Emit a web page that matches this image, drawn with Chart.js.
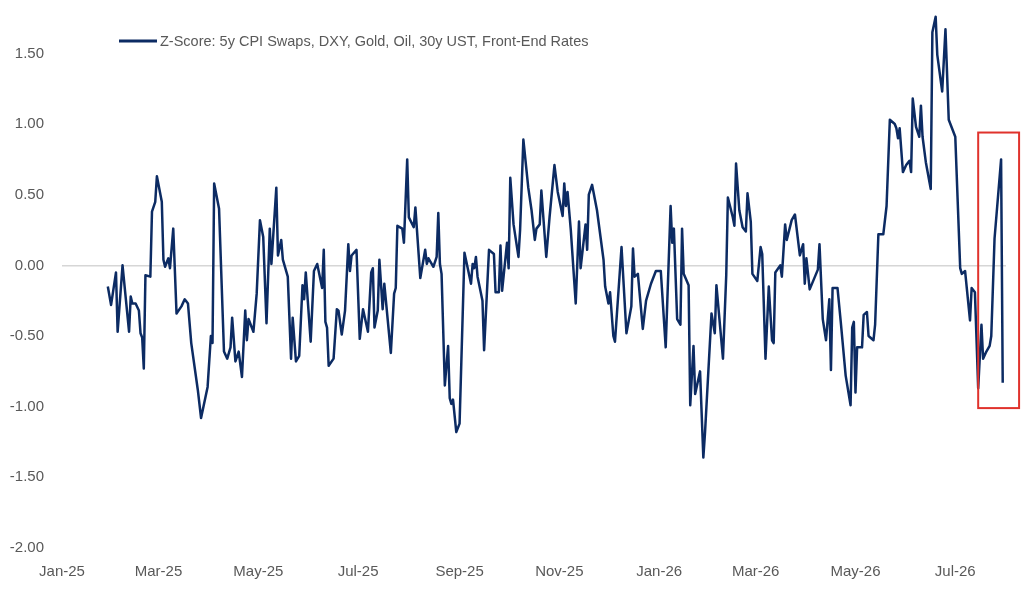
<!DOCTYPE html>
<html>
<head>
<meta charset="utf-8">
<script src="https://cdn.jsdelivr.net/npm/chart.js@4.4.1/dist/chart.umd.min.js"></script>
<style>
  html, body { margin: 0; padding: 0; background: #ffffff; }
  #wrap { width: 1024px; height: 593px; position: relative; }
</style>
</head>
<body>
<div id="wrap"><canvas id="zChart"></canvas></div>
<script>
// series label + data (x = days since 1 Jan 2025)
const seriesLabel = "Z-Score: 5y CPI Swaps, DXY, Gold, Oil, 30y UST, Front-End Rates";

const days = [
  28, 30, 33, 34, 37, 41, 42, 43, 45, 47, 48, 49, 50, 51, 54, 55, 57, 58, 61, 62,
  63, 65, 66, 68, 70, 73, 75, 77, 79, 83, 85, 89, 91, 92, 93, 96, 99, 101, 103, 104,
  106, 108, 110, 112, 113, 114, 117,
  119, 121, 123, 125, 127, 128, 131, 132, 134, 135, 138, 140, 141, 143, 145, 147, 148, 149, 152, 154,
  156, 159, 160, 161, 162, 163, 166, 168, 169, 171, 173, 175, 176, 177, 180, 182, 184, 187, 189, 190,
  191, 193, 194, 196, 197, 201, 203, 204, 205,
  208, 209, 211, 212, 215, 216, 219, 222, 223, 224, 227, 229, 230, 231, 232, 234, 236, 237, 238, 239,
  241, 243, 246, 250, 251, 252, 253, 254, 257, 258, 261, 264, 265, 267, 268, 269, 272, 273, 274, 276,
  279, 280, 282, 285, 287, 289, 290, 292, 293, 296,
  298, 301, 303, 306, 307, 308, 309, 311, 314, 316, 317, 320, 321, 322, 324, 327, 331, 332, 334, 335,
  337, 338, 342, 345, 348, 349, 350, 352, 355, 357, 360, 363, 366, 369, 372, 373, 374, 376, 378, 379,
  380, 383, 384, 386, 387, 390, 392, 393,
  397, 399, 400, 404, 406, 407, 410, 411, 412, 414, 416, 418, 419, 421, 422, 425, 427, 428, 430, 432,
  434, 435, 436, 439, 440, 442, 443, 446, 448, 451, 453, 454, 455, 457, 462, 463, 465, 467, 469, 470,
  471, 474, 476, 479,
  482, 483, 484, 485, 486, 489, 490, 492, 493, 496, 497, 499, 502, 504, 506, 509, 510, 511, 512, 514,
  516, 518, 519, 520, 522, 524, 525, 526, 528, 531, 532, 534, 535, 538, 540, 542, 546, 549, 550, 552,
  555, 556, 558, 560, 562, 563, 565, 567, 568, 570, 574, 575
];

const zscore = [
  -0.15, -0.28, -0.05, -0.47, 0.00, -0.47, -0.22, -0.27, -0.27, -0.32, -0.48, -0.51, -0.73, -0.07, -0.08, 0.38, 0.45, 0.63, 0.45, 0.04,
  -0.01, 0.05, -0.02, 0.26, -0.34, -0.29, -0.24, -0.27, -0.55, -0.88, -1.08, -0.86, -0.50, -0.55, 0.58, 0.40, -0.61, -0.66, -0.58, -0.37,
  -0.68, -0.61, -0.79, -0.32, -0.53, -0.38, -0.47,
  -0.20, 0.32, 0.20, -0.41, 0.26, 0.01, 0.55, 0.07, 0.18, 0.04, -0.08, -0.66, -0.37, -0.68, -0.64, -0.14, -0.24, -0.05, -0.54, -0.04,
  0.01, -0.16, 0.11, -0.40, -0.44, -0.71, -0.66, -0.31, -0.32, -0.49, -0.32, 0.15, -0.04, 0.07, 0.11, -0.52, -0.31, -0.47, -0.05, -0.02,
  -0.44, -0.32, 0.04, -0.31, -0.13, -0.62, -0.20, -0.16, 0.28,
  0.26, 0.16, 0.75, 0.34, 0.27, 0.41, -0.09, 0.11, 0.01, 0.05, -0.01, 0.06, 0.37, 0.01, -0.06, -0.85, -0.57, -0.94, -0.98, -0.95,
  -1.18, -1.12, 0.09, -0.13, 0.01, -0.02, 0.06, -0.08, -0.25, -0.60, 0.11, 0.08, -0.19, -0.19, 0.14, -0.18, 0.16, -0.02, 0.62, 0.29,
  0.06, 0.25, 0.89, 0.55, 0.39, 0.18, 0.26, 0.29, 0.53, 0.06,
  0.34, 0.71, 0.52, 0.35, 0.58, 0.42, 0.52, 0.25, -0.27, 0.31, -0.02, 0.29, 0.11, 0.50, 0.57, 0.39, 0.04, -0.15, -0.27, -0.19,
  -0.50, -0.54, 0.13, -0.48, -0.29, 0.12, -0.08, -0.06, -0.45, -0.25, -0.13, -0.04, -0.04, -0.58, 0.42, 0.16, 0.26, -0.38, -0.42, 0.26,
  -0.06, -0.14, -0.99, -0.57, -0.91, -0.75, -1.36, -1.19,
  -0.34, -0.48, -0.14, -0.66, -0.07, 0.48, 0.34, 0.28, 0.72, 0.39, 0.27, 0.24, 0.51, 0.31, -0.06, -0.11, 0.13, 0.08, -0.66, -0.15,
  -0.53, -0.55, -0.05, 0.00, -0.08, 0.29, 0.18, 0.32, 0.36, 0.07, 0.15, -0.13, 0.05, -0.17, -0.03, 0.15, -0.38, -0.53, -0.24, -0.74,
  -0.16, -0.16, -0.40, -0.78,
  -0.99, -0.44, -0.40, -0.90, -0.58, -0.58, -0.35, -0.33, -0.50, -0.53, -0.42, 0.22, 0.22, 0.42, 1.03, 1.00, 0.97, 0.90, 0.97, 0.66,
  0.71, 0.74, 0.66, 1.18, 0.98, 0.91, 1.13, 0.91, 0.73, 0.54, 1.65, 1.76, 1.49, 1.23, 1.67, 1.03, 0.91, -0.02, -0.06, -0.04,
  -0.39, -0.16, -0.19, -0.87, -0.42, -0.66, -0.61, -0.57, -0.50, 0.19, 0.75, -0.83
];

// axis ticks
const xTickLabels = ["Jan-25", "Mar-25", "May-25", "Jul-25", "Sep-25", "Nov-25", "Jan-26", "Mar-26", "May-26", "Jul-26"];
const yTicks = [-2.0, -1.5, -1.0, -0.5, 0.0, 0.5, 1.0, 1.5];

// red box around the latest move (days / z-score)
const highlightDays = [560, 585];
const highlightRange = [-1.01, 0.94];

const MONTHS = ["Jan", "Feb", "Mar", "Apr", "May", "Jun", "Jul", "Aug", "Sep", "Oct", "Nov", "Dec"];
const DAY_MS = 86400000;
const START = Date.UTC(2025, 0, 1);

function labelToDay(lbl) {
  const [mon, yy] = lbl.split("-");
  return Math.round((Date.UTC(2000 + parseInt(yy), MONTHS.indexOf(mon), 1) - START) / DAY_MS);
}
const xTickDays = xTickLabels.map(labelToDay);

const FONT = "'Liberation Sans', Arial, sans-serif";
const GREY = "#595959";
const NAVY = "#0c2b63";

const points = days.map((d, i) => ({ x: d, y: zscore[i] }));

// legend drawn in the top left of the plot
const legendPlugin = {
  id: "insideLegend",
  afterDraw(chart) {
    const ctx = chart.ctx;
    const area = chart.chartArea;
    const x0 = area.left + 57;
    const y0 = 41;
    ctx.save();
    ctx.strokeStyle = NAVY;
    ctx.lineWidth = 3;
    ctx.beginPath();
    ctx.moveTo(x0, y0);
    ctx.lineTo(x0 + 38, y0);
    ctx.stroke();
    ctx.fillStyle = GREY;
    ctx.font = "14.5px " + FONT;
    ctx.textBaseline = "middle";
    ctx.fillText(chart.data.datasets[0].label, x0 + 41, y0 + 1);
    ctx.restore();
  }
};

const boxPlugin = {
  id: "highlightBox",
  afterDatasetsDraw(chart) {
    const xs = chart.scales.x, ys = chart.scales.y;
    const l = xs.getPixelForValue(highlightDays[0]);
    const r = xs.getPixelForValue(highlightDays[1]);
    const t = ys.getPixelForValue(highlightRange[1]);
    const b = ys.getPixelForValue(highlightRange[0]);
    const ctx = chart.ctx;
    ctx.save();
    ctx.strokeStyle = "#e0322c";
    ctx.lineWidth = 2;
    ctx.strokeRect(l, t, r - l, b - t);
    ctx.restore();
  }
};

const ctx = document.getElementById("zChart").getContext("2d");
const chart = new Chart(ctx, {
  type: "line",
  data: {
    datasets: [{
      label: seriesLabel,
      data: points,
      borderColor: NAVY,
      borderWidth: 2.5,
      pointRadius: 0,
      tension: 0,
      borderJoinStyle: "round",
      fill: false
    }]
  },
  options: {
    responsive: true,
    maintainAspectRatio: false,
    animation: false,
    devicePixelRatio: 1,
    layout: { padding: { left: 10, right: 18, top: 11, bottom: 12 } },
    plugins: {
      legend: { display: false },
      tooltip: { enabled: false }
    },
    scales: {
      x: {
        type: "linear",
        min: 0,
        max: 577,
        grid: { display: false, drawTicks: false },
        border: { display: false },
        afterBuildTicks: (scale) => { scale.ticks = xTickDays.map(v => ({ value: v })); },
        afterFit: (scale) => { scale.height = 33; scale.paddingLeft = 0; scale.paddingRight = 0; },
        ticks: {
          autoSkip: false,
          maxRotation: 0,
          padding: 15,
          color: GREY,
          font: { family: FONT, size: 15 },
          callback: (value, index) => xTickLabels[index]
        }
      },
      y: {
        min: -2,
        max: 1.8,
        grid: {
          drawTicks: false,
          lineWidth: 1.5,
          color: (c) => (c.tick && c.tick.value === 0 ? "#d6d6d6" : "rgba(0,0,0,0)")
        },
        border: { display: false },
        afterBuildTicks: (scale) => { scale.ticks = yTicks.map(v => ({ value: v })); },
        afterFit: (scale) => { scale.width = 52; scale.paddingTop = 0; scale.paddingBottom = 0; },
        ticks: {
          padding: 18,
          color: GREY,
          font: { family: FONT, size: 15 },
          callback: (value) => value.toFixed(2)
        }
      }
    }
  },
  plugins: [legendPlugin, boxPlugin]
});
</script>
</body>
</html>
